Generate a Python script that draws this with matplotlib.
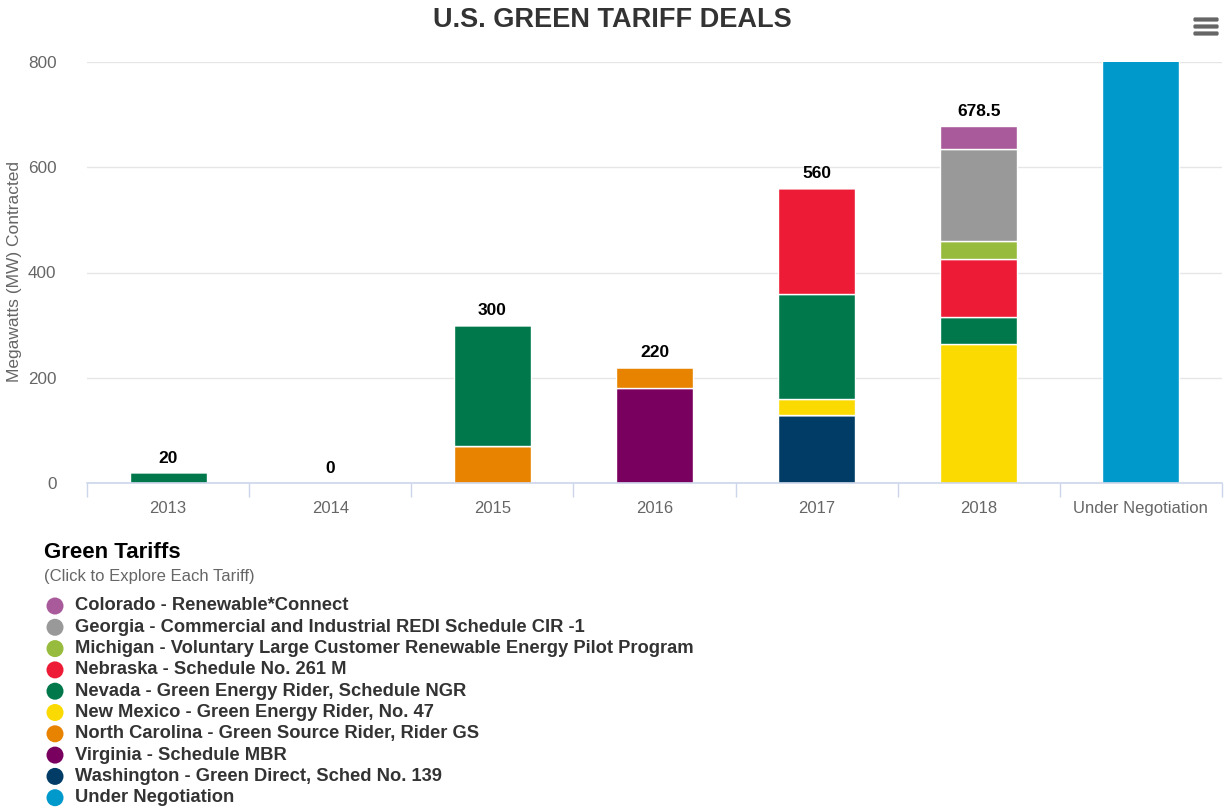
import matplotlib
matplotlib.use("Agg")
import matplotlib.pyplot as plt
from matplotlib.patches import Circle, FancyBboxPatch
import numpy as np

plt.rcParams['font.family'] = ['Liberation Sans', 'DejaVu Sans']

# categories on the x axis
years = ['2013', '2014', '2015', '2016', '2017', '2018', 'Under Negotiation']

# MW contracted per tariff, one value per category (bottom of stack first)
under_negotiation = [0, 0, 0, 0, 0, 0, 1000]
washington = [0, 0, 0, 0, 130, 0, 0]
virginia = [0, 0, 0, 180, 0, 0, 0]
north_carolina = [0, 0, 70, 40, 0, 0, 0]
new_mexico = [0, 0, 0, 0, 30, 265, 0]
nevada = [20, 0, 230, 0, 200, 50, 0]
nebraska = [0, 0, 0, 0, 200, 110, 0]
michigan = [0, 0, 0, 0, 0, 35, 0]
georgia = [0, 0, 0, 0, 0, 175, 0]
colorado = [0, 0, 0, 0, 0, 43.5, 0]

# legend order (top to bottom) and colours
legend_names = [
    'Colorado - Renewable*Connect',
    'Georgia - Commercial and Industrial REDI Schedule CIR -1',
    'Michigan - Voluntary Large Customer Renewable Energy Pilot Program',
    'Nebraska - Schedule No. 261 M',
    'Nevada - Green Energy Rider, Schedule NGR',
    'New Mexico - Green Energy Rider, No. 47',
    'North Carolina - Green Source Rider, Rider GS',
    'Virginia - Schedule MBR',
    'Washington - Green Direct, Sched No. 139',
    'Under Negotiation',
]
legend_series = [colorado, georgia, michigan, nebraska, nevada,
                 new_mexico, north_carolina, virginia, washington, under_negotiation]
colors = ['#a95a9b', '#999999', '#97bb3c', '#ed1b36', '#00784b',
          '#fada00', '#e88300', '#7a005f', '#003c65', '#0099cc']

fig = plt.figure(figsize=(12.25, 8.09), dpi=100)
W, H = 1225, 809
ax = fig.add_axes([87 / W, 1 - 483 / H, (1222 - 87) / W, (483 - 62) / H])

x = np.arange(len(years))
bottom = np.zeros(len(years))
# stack from the bottom: reverse of legend order
for vals, col in zip(legend_series[::-1], colors[::-1]):
    v = np.array(vals, dtype=float)
    ax.bar(x, v, width=0.475, bottom=bottom, color=col, edgecolor='white',
           linewidth=1, zorder=3)
    bottom += v

# stack totals for the year columns
for i in range(len(years) - 1):
    tot = bottom[i]
    ax.annotate('%g' % tot, (x[i], tot), xytext=(0, 5), textcoords='offset points',
                ha='center', va='bottom', fontsize=12.5, fontweight='bold',
                color='black', zorder=5)

ax.set_xlim(-0.5, len(years) - 0.5)
ax.set_ylim(0, 800)
ax.set_yticks([0, 200, 400, 600, 800])
ax.yaxis.grid(True, color='#e6e6e6', linewidth=1, zorder=0)
ax.set_xticks(x)
ax.set_xticklabels(years)
ax.set_xticks(np.arange(-0.5, len(years)), minor=True)
ax.tick_params(axis='x', which='major', length=0, pad=13, labelsize=12, labelcolor='#666666')
ax.tick_params(axis='x', which='minor', length=10, width=1, color='#ccd6eb')
ax.tick_params(axis='y', length=0, pad=22, labelsize=12.3, labelcolor='#666666')
for s in ['top', 'right', 'left']:
    ax.spines[s].set_visible(False)
ax.spines['bottom'].set_color('#ccd6eb')
ax.spines['bottom'].set_linewidth(1.2)
ax.spines['bottom'].set_zorder(4)

fig.text(612 / W, 1 - 20 / H, 'U.S. GREEN TARIFF DEALS', ha='center', va='center',
         fontsize=19.5, fontweight='bold', color='#333333')
fig.text(15 / W, 1 - 272 / H, 'Megawatts (MW) Contracted', rotation=90,
         ha='center', va='center', fontsize=12.5, color='#666666')

# overlay in pixel coords for legend and menu icon
ov = fig.add_axes([0, 0, 1, 1])
ov.set_xlim(0, W)
ov.set_ylim(H, 0)
ov.axis('off')
ov.patch.set_alpha(0)

for yy in [19.5, 26.5, 33.5]:
    ov.add_patch(FancyBboxPatch((1194, yy - 1.5), 24, 3,
                                boxstyle='round,pad=0.6,rounding_size=1.5',
                                color='#666666', lw=0))

ov.text(44, 552, 'Green Tariffs', ha='left', va='center', fontsize=16,
        fontweight='bold', color='black')
ov.text(44, 576, '(Click to Explore Each Tariff)', ha='left', va='center',
        fontsize=12, color='#666666')
for k, (name, col) in enumerate(zip(legend_names, colors)):
    yy = 606 + k * 21.3
    ov.add_patch(Circle((55, yy), 8.5, color=col, lw=0))
    ov.text(75, yy, name, ha='left', va='center', fontsize=13.2,
            fontweight='bold', color='#333333')

fig.savefig('out.png', dpi=100)
